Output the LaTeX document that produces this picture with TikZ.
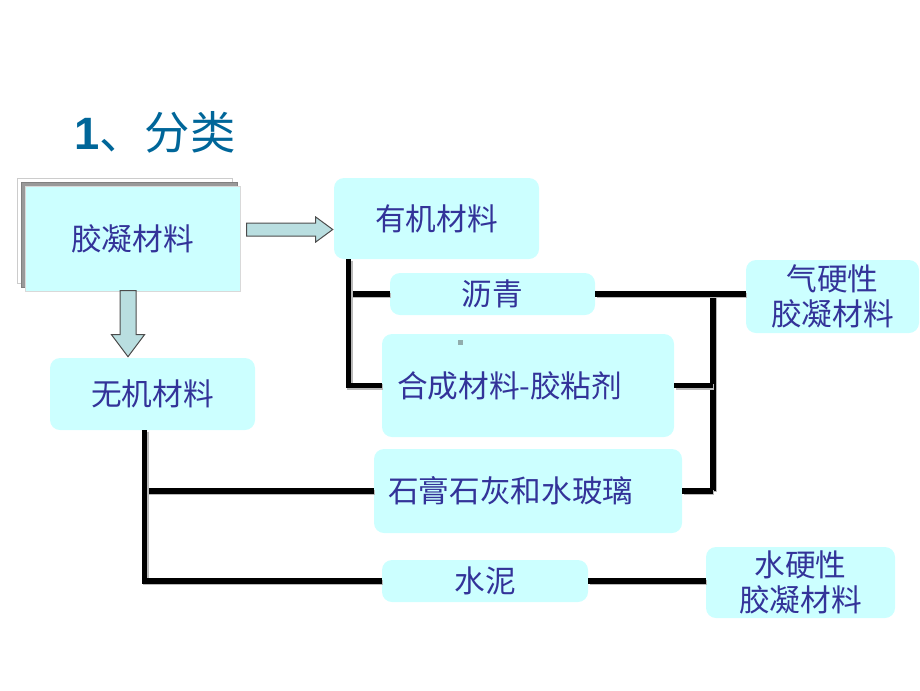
\documentclass[tikz,border=0pt]{standalone}
\usepackage{fontspec}
\setmainfont{Liberation Sans}
\newfontfamily\cjk{Noto Sans CJK SC}
\usetikzlibrary{positioning, calc}
\definecolor{boxcyan}{RGB}{204,255,255}
\definecolor{txtblue}{RGB}{51,51,153}
\definecolor{titleblue}{RGB}{0,102,153}
\definecolor{arrowfill}{RGB}{185,222,224}
\tikzstyle{box} = [rectangle, fill=boxcyan, draw=none, rounded corners=7.5pt, text=txtblue, font=\cjk\fontsize{23}{26}\selectfont, align=center, inner sep=0pt]
\tikzstyle{wire} = [line width=4pt, black, preaction={draw=gray!55, line width=4pt, transform canvas={shift={(1pt,-1pt)}}}]
\tikzstyle{barrow} = [draw=black!70, line width=0.75pt, fill=arrowfill]

\begin{document}
\begin{tikzpicture}[x=0.75pt, y=-0.75pt]
        \useasboundingbox (0,0) rectangle (920,690);

        % Title
        \node[anchor=west, text=titleblue, font=\fontsize{34}{40}\selectfont, inner sep=0pt] (title) at (74,132) {\textbf{1}{\cjk 、分类}};

        % Main box with stacked sheets
        \draw[gray!40, fill=white, line width=0.75pt] (17,178) rectangle (232,283);
        \draw[gray, fill=gray!80, line width=0.75pt] (21,182) rectangle (237,287);
        \node[box, rounded corners=0pt, draw=gray!30, line width=0.5pt, minimum width=161.25pt, minimum height=78.75pt] (gel) at (132.5,238.5) {胶凝材料};

        % Boxes
        \node[box, minimum width=153.75pt, minimum height=60.75pt] (org) at (436.5,218.5) {有机材料};
        \node[box, minimum width=153.75pt, minimum height=54pt] (inorg) at (152.5,394) {无机材料};
        \node[box, minimum width=153.75pt, minimum height=31.5pt] (asph) at (492.5,294) {沥青};
        \node[box, minimum width=219pt, minimum height=77.25pt, text width=196.5pt, align=left] (synth) at (528,385.5) {合成材料-胶粘剂};
        \node[box, minimum width=231pt, minimum height=63pt, text width=210pt, align=left] (gyps) at (528,491) {石膏石灰和水玻璃};
        \node[box, minimum width=129.75pt, minimum height=54.75pt] (air) at (832.5,296.5) {气硬性\\胶凝材料};
        \node[box, minimum width=154.5pt, minimum height=31.5pt] (cem) at (485,581) {水泥};
        \node[box, minimum width=141.75pt, minimum height=53.25pt] (hyd) at (800.5,582.5) {水硬性\\胶凝材料};
        \fill[gray!30!boxcyan!80!black] (458,340) rectangle (463,345);

        % Block arrows
        \draw[barrow, shift={(org.west)}] (-87,4.5) -- (-18,4.5) -- (-18,-1.5) -- (-1,11) -- (-18,23.5) -- (-18,17.5) -- (-87,17.5) -- cycle;
        \draw[barrow, shift={(inorg.north)}] (-32.5,-67) -- (-16.5,-67) -- (-16.5,-23) -- (-8,-23) -- (-24.5,-1) -- (-41,-23) -- (-32.5,-23) -- cycle;

        % Connectors
        \coordinate (bus) at (713,297);
        \draw[wire] ([xshift=11.25pt]org.south west) |- (asph.west);
        \draw[wire] ([xshift=11.25pt]org.south west) |- (synth.west);
        \draw[wire] (asph.east -| bus) -- (gyps.east -| bus);
        \draw[wire] (asph.east) -- (asph.east -| air.west);
        \draw[wire] (synth.east) -- (synth.east -| bus);
        \draw[wire] (gyps.east) -- (gyps.east -| bus);
        \draw[wire] ([xshift=71.25pt]inorg.south west) |- (gyps.west);
        \draw[wire] ([xshift=71.25pt]inorg.south west) |- (cem.west);
        \draw[wire] (cem.east) -- (cem.east -| hyd.west);

    \end{tikzpicture}
\end{document}
